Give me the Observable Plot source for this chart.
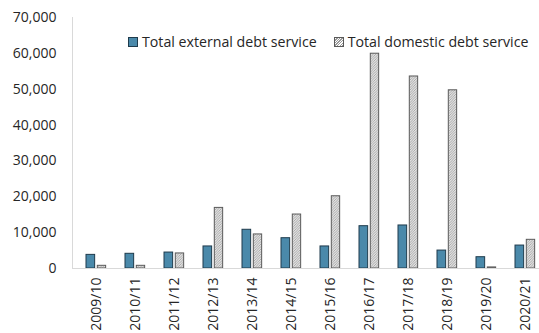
<!DOCTYPE html>
<html>
<head>
<meta charset="utf-8">
<script src="https://cdn.jsdelivr.net/npm/d3@7"></script>
<script src="https://cdn.jsdelivr.net/npm/@observablehq/plot@0.6"></script>
<style>
  html, body { margin: 0; padding: 0; background: #fff; }
  #wrap { position: relative; width: 539px; height: 333px; overflow: hidden; font-family: "Open Sans", sans-serif; }
  #legend { position: absolute; left: 128px; top: 32px; font-size: 14.2px; color: #262626; display: flex; align-items: center; white-space: nowrap; }
  .sw { display: inline-block; width: 10px; height: 10px; margin-right: 4px; box-sizing: border-box; }
  .item { display: flex; align-items: center; margin-right: 17px; }
</style>
</head>
<body>
<div id="wrap">
  <div id="chart"></div>
  <div id="legend"></div>
</div>
<script>
const categories = ["2009/10","2010/11","2011/12","2012/13","2013/14","2014/15","2015/16","2016/17","2017/18","2018/19","2019/20","2020/21"];
const seriesNames = ["Total external debt service", "Total domestic debt service"];
const externalValues = [3800, 4100, 4450, 6150, 10800, 8450, 6150, 11800, 12000, 5000, 3150, 6400];
const domesticValues = [750, 750, 4200, 16900, 9500, 15050, 20150, 59900, 53550, 49700, 300, 8000];
const yTicks = [0, 10000, 20000, 30000, 40000, 50000, 60000, 70000];

const extColor = "#4a89aa";
const extStroke = "#1f3b4c";
const domStroke = "#5a5a5a";

const extData = categories.map((c, i) => ({category: c, value: externalValues[i]}));
const domData = categories.map((c, i) => ({category: c, value: domesticValues[i]}));

const bw = 39.85;
const chart = Plot.plot({
  width: 539,
  height: 333,
  marginTop: 17,
  marginBottom: 65,
  marginLeft: 72,
  marginRight: 0,
  style: {fontFamily: "'Open Sans', sans-serif", fontSize: "14px", color: "#262626", overflow: "hidden"},
  x: {domain: categories, range: [72, 72 + bw * 12], padding: 0, label: null},
  y: {domain: [0, 70000], label: null},
  marks: [
    Plot.barY(extData, {x: "category", y: "value", fill: extColor, stroke: extStroke, strokeWidth: 1,
      insetLeft: 9, insetRight: bw - 18.5}),
    Plot.barY(domData, {x: "category", y: "value", fill: "url(#hatch)", stroke: domStroke, strokeWidth: 1,
      insetLeft: 20.3, insetRight: bw - 29.5}),
    Plot.ruleY([0], {stroke: "#d9d9d9", strokeWidth: 1}),
    Plot.frame({anchor: "left", stroke: "#d9d9d9"}),
    Plot.axisY({ticks: yTicks, tickSize: 0, tickPadding: 16, tickFormat: d3.format(","), label: null, fill: "#262626"}),
    Plot.axisX({tickSize: 0, tickRotate: -90, tickPadding: 9, label: null, fill: "#262626"})
  ]
});

// hatch pattern definition
const ns = "http://www.w3.org/2000/svg";
const defs = document.createElementNS(ns, "defs");
defs.innerHTML = `<pattern id="hatch" patternUnits="userSpaceOnUse" width="2.5" height="2.5">
  <rect width="2.5" height="2.5" fill="#ffffff"/>
  <path d="M-0.625,0.625 l1.25,-1.25 M0,2.5 l2.5,-2.5 M1.875,3.125 l1.25,-1.25" stroke="#9a9a9a" stroke-width="0.9"/>
</pattern>`;
chart.insertBefore(defs, chart.firstChild);
document.getElementById("chart").appendChild(chart);

// legend
const legend = document.getElementById("legend");
seriesNames.forEach((name, i) => {
  const item = document.createElement("span");
  item.className = "item";
  const sw = document.createElement("span");
  sw.className = "sw";
  if (i === 0) { sw.style.background = extColor; sw.style.border = "1px solid " + extStroke; }
  else {
    sw.style.border = "1px solid " + domStroke;
    sw.style.background = "repeating-linear-gradient(-45deg, #9a9a9a 0 1px, #fff 1px 1.8px)";
  }
  item.appendChild(sw);
  item.appendChild(document.createTextNode(name));
  legend.appendChild(item);
});
</script>
</body>
</html>
